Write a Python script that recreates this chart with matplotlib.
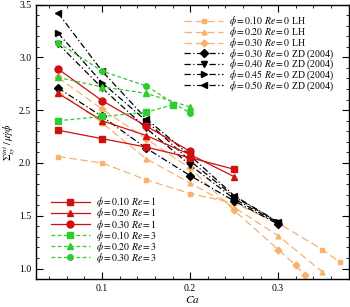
import matplotlib
matplotlib.use("Agg")
import matplotlib.pyplot as plt
from matplotlib.ticker import MultipleLocator

plt.rcParams['font.family'] = ['Liberation Serif', 'DejaVu Serif']
plt.rcParams['mathtext.fontset'] = 'stix'
plt.rcParams['font.size'] = 7

# LH, Re = 0
lh_ca_10 = [0.05, 0.10, 0.15, 0.20, 0.25, 0.30, 0.35, 0.37]
lh_10 = [2.06, 2.00, 1.84, 1.71, 1.62, 1.43, 1.18, 1.06]
lh_ca_20 = [0.05, 0.10, 0.15, 0.20, 0.25, 0.30, 0.35]
lh_20 = [2.68, 2.38, 2.04, 1.81, 1.58, 1.31, 0.97]
lh_ca_30 = [0.05, 0.10, 0.15, 0.20, 0.25, 0.30, 0.32, 0.33]
lh_30 = [2.81, 2.51, 2.23, 1.95, 1.55, 1.18, 1.03, 0.94]

# Zinchenko & Davis (2004), Re = 0
zd_ca = [0.05, 0.10, 0.15, 0.20, 0.25, 0.30]
zd_30 = [2.71, 2.44, 2.14, 1.88, 1.64, 1.42]
zd_40 = [3.13, 2.71, 2.33, 1.98, 1.66, 1.43]
zd_45 = [3.23, 2.76, 2.40, 2.02, 1.68, 1.44]
zd_50 = [3.42, 2.87, 2.42, 2.07, 1.69, 1.44]

# present, Re = 1
re1_ca = [0.05, 0.10, 0.15, 0.20, 0.25]
re1_10 = [2.31, 2.23, 2.15, 2.05, 1.94]
re1_20 = [2.66, 2.40, 2.26, 2.08, 1.87]
re1_ca_30 = [0.05, 0.10, 0.15, 0.20]
re1_30 = [2.89, 2.59, 2.35, 2.11]

# present, Re = 3
re3_ca_10 = [0.05, 0.10, 0.15, 0.18]
re3_10 = [2.40, 2.44, 2.48, 2.55]
re3_ca = [0.05, 0.10, 0.15, 0.20]
re3_20 = [2.81, 2.72, 2.66, 2.53]
re3_30 = [3.14, 2.87, 2.73, 2.47]

orange = '#f7b26e'
red = '#d01010'
green = '#2ecc2e'

fig = plt.figure(figsize=(3.5, 3.07), dpi=100)
ax = fig.add_axes([0.103, 0.091, 0.893, 0.894])

lw = 0.9
ms = 4
h1 = []
h1 += ax.plot(lh_ca_10, lh_10, ls=(0, (6, 3)), color=orange, lw=lw, marker='s', ms=3.5,
              label=r'$\phi = 0.10$ $Re = 0$ LH')
h1 += ax.plot(lh_ca_20, lh_20, ls=(0, (6, 3)), color=orange, lw=lw, marker='^', ms=3.5,
              label=r'$\phi = 0.20$ $Re = 0$ LH')
h1 += ax.plot(lh_ca_30, lh_30, ls=(0, (6, 3)), color=orange, lw=lw, marker='D', ms=3.5,
              label=r'$\phi = 0.30$ $Re = 0$ LH')
dd = (0, (5, 2, 1, 2))
h1 += ax.plot(zd_ca, zd_30, ls=dd, color='k', lw=lw, marker='D', ms=ms,
              label=r'$\phi = 0.30$ $Re = 0$ ZD (2004)')
h1 += ax.plot(zd_ca, zd_40, ls=dd, color='k', lw=lw, marker='v', ms=ms,
              label=r'$\phi = 0.40$ $Re = 0$ ZD (2004)')
h1 += ax.plot(zd_ca, zd_45, ls=dd, color='k', lw=lw, marker='>', ms=ms,
              label=r'$\phi = 0.45$ $Re = 0$ ZD (2004)')
h1 += ax.plot(zd_ca, zd_50, ls=dd, color='k', lw=lw, marker='<', ms=ms,
              label=r'$\phi = 0.50$ $Re = 0$ ZD (2004)')

h2 = []
h2 += ax.plot(re1_ca, re1_10, ls='-', color=red, lw=lw, marker='s', ms=ms + 0.5,
              label=r'$\phi = 0.10$ $Re = 1$')
h2 += ax.plot(re1_ca, re1_20, ls='-', color=red, lw=lw, marker='^', ms=ms + 0.5,
              label=r'$\phi = 0.20$ $Re = 1$')
h2 += ax.plot(re1_ca_30, re1_30, ls='-', color=red, lw=lw, marker='o', ms=ms + 1,
              label=r'$\phi = 0.30$ $Re = 1$')
h2 += ax.plot(re3_ca_10, re3_10, ls=(0, (3, 2)), color=green, lw=lw, marker='s', ms=ms,
              label=r'$\phi = 0.10$ $Re = 3$')
h2 += ax.plot(re3_ca, re3_20, ls=(0, (3, 2)), color=green, lw=lw, marker='^', ms=ms,
              label=r'$\phi = 0.20$ $Re = 3$')
h2 += ax.plot(re3_ca, re3_30, ls=(0, (3, 2)), color=green, lw=lw, marker='o', ms=ms,
              label=r'$\phi = 0.30$ $Re = 3$')

ax.set_xlim(0.025, 0.38)
ax.set_ylim(0.9, 3.5)
ax.xaxis.set_major_locator(MultipleLocator(0.1))
ax.xaxis.set_minor_locator(MultipleLocator(0.02))
ax.yaxis.set_major_locator(MultipleLocator(0.5))
ax.yaxis.set_minor_locator(MultipleLocator(0.1))
ax.xaxis.set_major_formatter(plt.FuncFormatter(lambda v, p: f'{v:.1f}'))
ax.yaxis.set_major_formatter(plt.FuncFormatter(lambda v, p: f'{v:.1f}'))
ax.tick_params(which='both', direction='in', top=True, right=True, labelsize=7)
ax.tick_params(which='major', length=5, width=0.8)
ax.tick_params(which='minor', length=2.5, width=0.6)
for s in ax.spines.values():
    s.set_linewidth(1.0)

ax.set_xlabel(r'$Ca$', fontsize=8, labelpad=1)
ax.set_ylabel(r'$\Sigma_{xy}^{int}\,/\,\mu\dot{\gamma}\phi$', fontsize=7.5, labelpad=1)

leg1 = ax.legend(handles=h1, loc='upper right', frameon=False, fontsize=7,
                 handlelength=4.0, labelspacing=-0.3, borderaxespad=0.3,
                 handletextpad=0.6, bbox_to_anchor=(0.975, 0.99))
ax.add_artist(leg1)
ax.legend(handles=h2, loc='lower left', frameon=False, fontsize=7,
          handlelength=4.0, labelspacing=-0.3, handletextpad=0.6,
          bbox_to_anchor=(0.02, 0.02))

fig.savefig('out.png', dpi=100)
